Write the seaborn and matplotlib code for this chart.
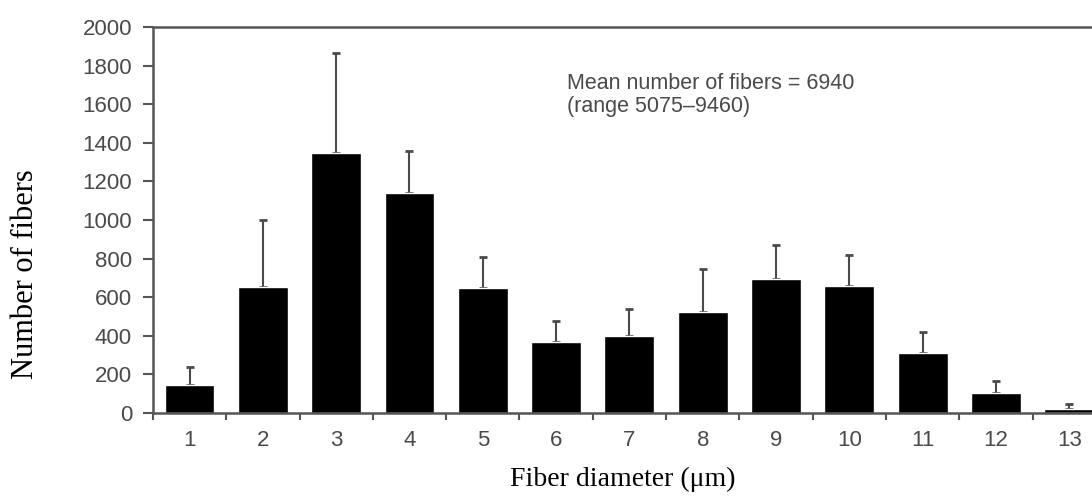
import numpy as np
import pandas as pd
import seaborn as sns
import matplotlib.pyplot as plt

# Values
diameters = [1, 2, 3, 4, 5, 6, 7, 8, 9, 10, 11, 12, 13]
mean_fibers = [145, 654, 1347, 1140, 650, 370, 400, 525, 694, 658, 311, 104, 20]
upper_err = [238, 1000, 1865, 1360, 810, 475, 540, 745, 870, 819, 420, 166, 47]
y_ticks = [0, 200, 400, 600, 800, 1000, 1200, 1400, 1600, 1800, 2000]

df = pd.DataFrame({'Diameter': diameters, 'Fibers': mean_fibers, 'Upper': upper_err})

sns.set_style("ticks")
plt.rcParams['font.family'] = ['Liberation Sans', 'DejaVu Sans']

fig = plt.figure(figsize=(10.92, 4.99), dpi=100)
ax = fig.add_axes([0.140, 0.1723, 0.860, 0.7736])

sns.barplot(data=df, x='Diameter', y='Fibers', color='black', width=0.68,
            saturation=1, errorbar=None, ax=ax, zorder=2)

pos = np.arange(len(diameters))
ax.errorbar(pos, df['Fibers'], yerr=[np.zeros(len(pos)), df['Upper'] - df['Fibers']],
            fmt='none', ecolor='#4a4a4a', elinewidth=1.5, capsize=3, capthick=2, zorder=1)

gray = '#555555'
ax.set_xlim(-0.5, 12.31)
ax.set_ylim(0, 2000)
ax.set_yticks(y_ticks)
ax.set_xticks(pos)
ax.set_xticklabels([str(d) for d in diameters])
ax.set_xticks(np.arange(-0.5, 12.0, 1.0), minor=True)
ax.tick_params(axis='x', which='major', length=0, pad=12, labelsize=16, labelcolor='#4a4a4a')
ax.tick_params(axis='x', which='minor', length=5, width=1.5, color=gray, direction='out')
ax.tick_params(axis='y', length=7, width=1.5, color=gray, direction='out',
               labelsize=16, labelcolor='#4a4a4a', pad=8)

for side in ['left', 'top', 'bottom']:
    ax.spines[side].set_color(gray)
    ax.spines[side].set_linewidth(1.8)
ax.spines['right'].set_visible(False)

ax.set_xlabel('Fiber diameter (μm)', family=['Liberation Serif', 'DejaVu Serif'],
              fontsize=20, color='black')
ax.set_ylabel('Number of fibers', family=['Liberation Serif', 'DejaVu Serif'],
              fontsize=22, color='black')
ax.xaxis.set_label_coords(0.5, -0.14)
ax.yaxis.set_label_coords(-0.12, 0.36)

ax.text(5.15, 1705, 'Mean number of fibers = 6940', fontsize=15.5, color='#4a4a4a', va='center')
ax.text(5.15, 1590, '(range 5075\u20139460)', fontsize=15.5, color='#4a4a4a', va='center')

plt.savefig('out.png', dpi=100)
plt.close()
